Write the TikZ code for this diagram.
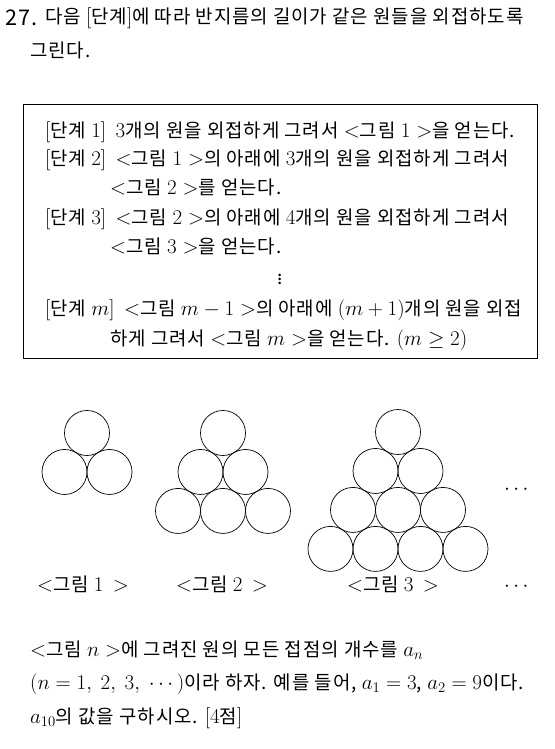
\RequirePackage{fix-cm}
\documentclass[tikz,border=0pt]{standalone}
\usepackage{amsmath, amssymb}
\usepackage[no-math]{fontspec}
\setmainfont[Scale=0.9, LetterSpace=5]{Noto Sans CJK KR}

\begin{document}
\begin{tikzpicture}[x=1pt, y=-1pt,
  every node/.style = {inner sep=0pt, anchor=base west,
    font=\fontsize{21}{24}\selectfont},
  caption/.style = {anchor=base},
  ball/.style = {draw, line width=0.7pt}]
  \useasboundingbox (0,0) rectangle (554,749);
  % question
  \node (num) at (5,26) {\fontsize{24}{24}\selectfont 27.};
  \node (q1) at (45,24) {다음 $[$단계$]$에 따라 반지름의 길이가 같은 원들을 외접하도록};
  \node (q2) at (30,58) {그린다.};
  % steps box
  \draw[line width=1pt] (23,105) rectangle (537,358);
  \node (s1) at (45,137) {$[$단계 $1]$\enspace $3$개의 원을 외접하게 그려서 $<$그림 $1>$을 얻는다.};
  \node (s2) at (45,165) {$[$단계 $2]$\enspace $<$그림 $1>$의 아래에 $3$개의 원을 외접하게 그려서};
  \node (s2b) at (110,194) {$<$그림 $2>$를 얻는다.};
  \node (s3) at (45,224) {$[$단계 $3]$\enspace $<$그림 $2>$의 아래에 $4$개의 원을 외접하게 그려서};
  \node (s3b) at (110,253) {$<$그림 $3>$을 얻는다.};
  \node (vd) [caption] at (280,284) {$\vdots$};
  \node (sm) at (45,315) {$[$단계 $m]$\enspace $<$그림 $m-1>$의 아래에 $(m+1)$개의 원을 외접};
  \node (smb) at (110,345) {하게 그려서 $<$그림 $m>$을 얻는다. $(m\geq 2)$};
  % circles
  \foreach \tx/\ty/\n in {87/433/1, 223/433/2, 398/432/3}
    \foreach \k in {0,...,\n}
      \foreach \j in {0,...,\k}
        \draw[ball] ({\tx+(2*\j-\k)*22.5}, {\ty+\k*38.97}) circle (22.5);
  \node (more) [caption] at (518,494) {$\cdots$};
  \node (c1) [caption] at (83,591) {$<$그림 $1\,>$};
  \node (c2) [caption] at (222,591) {$<$그림 $2\,>$};
  \node (c3) [caption] at (393,591) {$<$그림 $3\,>$};
  \node (cm) [caption] at (518,591) {$\cdots$};
  % question text
  \node (b1) at (30,656) {$<$그림 $n>$에 그려진 원의 모든 접점의 개수를 $a_n$};
  \node (b2) at (30,689) {$(n=1,\ 2,\ 3,\ \cdots)$이라 하자. 예를 들어, $a_1=3$, $a_2=9$이다.};
  \node (b3) at (30,723) {$a_{10}$의 값을 구하시오. $[4$점$]$};
\end{tikzpicture}
\end{document}
